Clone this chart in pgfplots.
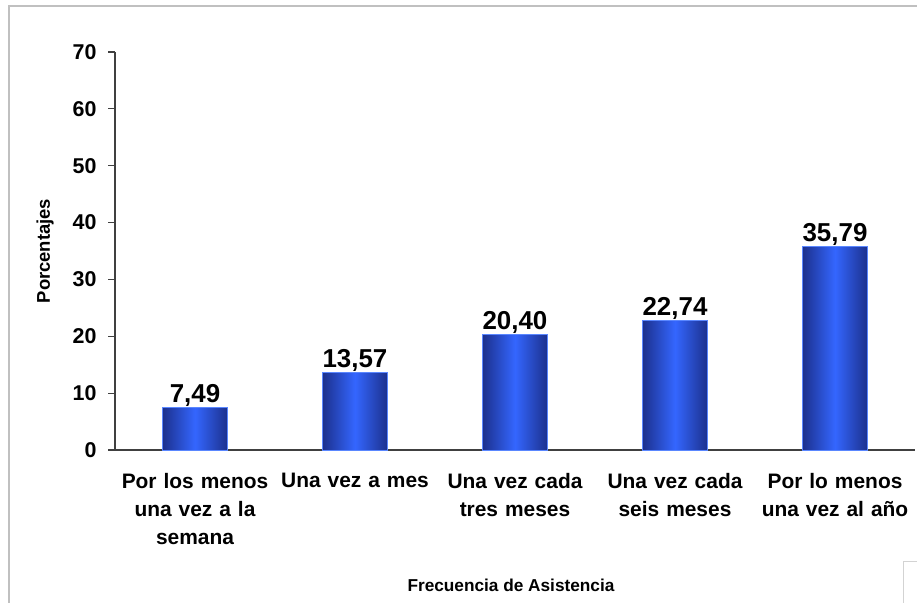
\documentclass[border=0pt]{standalone}
\usepackage{pgfplots}
\pgfplotsset{compat=1.18}
\usepackage{fontspec}
\setmainfont{Liberation Sans}
\definecolor{bardark}{RGB}{28,48,140}
\definecolor{barlight}{RGB}{52,102,255}
\definecolor{barborder}{RGB}{90,135,255}
\definecolor{axisgray}{RGB}{64,64,64}
\definecolor{framegray}{RGB}{192,192,192}
\pgfplotsset{barstyle/.style={draw=barborder, line width=1bp, left color=bardark, right color=bardark, middle color=barlight}}
\begin{document}
\begin{tikzpicture}
\useasboundingbox (0,0) rectangle (917bp,603bp);
\fill[white] (0,0) rectangle (917bp,603bp);
\draw[framegray, line width=1.8bp] (9bp,-2bp) -- (9bp,597bp) -- (919bp,597bp);
\draw[framegray!70, line width=1bp] (903bp,-2bp) -- (903bp,41bp) -- (919bp,41bp);
\begin{axis}[
  axis lines=left,
  at={(115bp,153bp)}, anchor=south west,
  scale only axis, width=800bp, height=398bp,
  xmin=-0.5, xmax=4.5, ymin=0, ymax=70,
  axis line style={-, draw=axisgray, line width=1.1bp},
  tick style={draw=axisgray, line width=1.1bp},
  tick align=outside,
  ytick={0,10,...,70},
  major tick length=7bp,
  xtick={0,1,2,3,4},
  xticklabels={{Por los menos\\una vez a la\\semana},{Una vez a mes},{Una vez cada\\tres meses},{Una vez cada\\seis meses},{Por lo menos\\una vez al año}},
  x tick style={draw=none},
  extra x ticks={-0.5,0.5,1.5,2.5,3.5,4.5},
  extra x tick labels={},
  extra x tick style={tick style={draw=axisgray, line width=1.1bp}, major tick length=7bp},
  x tick label style={font=\bfseries\fontsize{21}{28}\selectfont, text width=170bp, align=center, anchor=north, yshift=-13bp},
  yticklabel={\bfseries\fontsize{21.5}{21.5}\selectfont\pgfmathprintnumber{\tick}},
  y tick label style={anchor=east, xshift=-8bp},
  /pgf/number format/assume math mode=true,
  ylabel={Porcentajes},
  xlabel={Frecuencia de Asistencia},
  ylabel style={at={(axis description cs:-0.0875,0.5)}, anchor=center, font=\bfseries\fontsize{18.5}{18.5}\selectfont},
  xlabel style={at={(axis description cs:0.495,-0.339)}, anchor=center, font=\bfseries\fontsize{17.3}{17.3}\selectfont},
  ybar, bar width=0.41, bar shift=0pt,
  nodes near coords,
  point meta=explicit symbolic,
  every node near coord/.append style={font=\bfseries\fontsize{26}{26}\selectfont, anchor=base, inner sep=0pt, yshift=5bp},
  clip=false,
]
\addplot[barstyle] coordinates {(0,7.49)[7,49]};
\addplot[barstyle] coordinates {(1,13.57)[13,57]};
\addplot[barstyle] coordinates {(2,20.40)[20,40]};
\addplot[barstyle] coordinates {(3,22.74)[22,74]};
\addplot[barstyle] coordinates {(4,35.79)[35,79]};
\end{axis}
\end{tikzpicture}
\end{document}
